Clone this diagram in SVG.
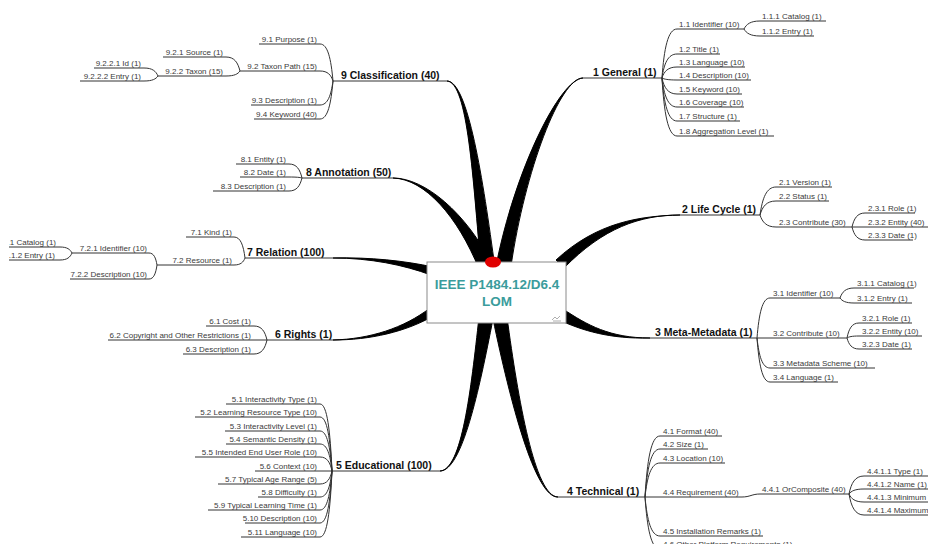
<svg xmlns="http://www.w3.org/2000/svg" width="928" height="544" viewBox="0 0 928 544">
  <style>
    .sub { font-family: "Liberation Sans", Arial, sans-serif; font-size: 8px; fill: #3a3a3a; }
    .l { text-anchor: end; }
    .main { font-family: "Liberation Sans", Arial, sans-serif; font-size: 10.5px; font-weight: bold; fill: #111; }
    .ul { stroke: #333; stroke-width: 1; fill: none; }
    .con { stroke: #333; stroke-width: 1; fill: none; }
    .trunk { fill: #000; stroke: #000; stroke-width: 1; stroke-linejoin: round; }
    .title { font-family: "Liberation Sans", Arial, sans-serif; font-size: 13.5px; font-weight: bold; fill: #3a9c9c; text-anchor: middle; }
  </style>
  <defs>
    <!-- the leftmost leaves run past the page margin -->
    <clipPath id="margin-left"><rect x="9" y="0" width="919" height="544"/></clipPath>
  </defs>
  <rect width="928" height="544" fill="#fff"/>

  <!-- connectors: tapered trunks from the root, then the fan-out curves of each branch -->
  <g id="connectors">
    <g id="trunks">
      <path class="trunk" d="M447,81 C468,81 483,179.5 495,268 L481,268 C473,180.5 468,82 447,81 Z"/>
      <path class="trunk" d="M393,178 C425,178 466,213 492,264 L479,269 C458,217 425,179 393,178 Z"/>
      <path class="trunk" d="M583,78 C560,78 525,170.7 511,266 L496,266 C515,169.3 560,79 583,78 Z"/>
      <path class="trunk" d="M680,215 C640,215 603,228 564,268 L556,260 C597,222 640,216 680,215 Z"/>
      <path class="trunk" d="M650,338 C610,338 587,325 563,309 L557,319 C583,331 610,339 650,338 Z"/>
      <path class="trunk" d="M333,258 C370,258 404,265 431,275 L433,267 C406,261 370,257 333,258 Z"/>
      <path class="trunk" d="M333,340 C370,340 406,332 435,315 L430,308 C404,328 370,339 333,340 Z"/>
      <path class="trunk" d="M440,471 C462,471 479,390.6 493,319 L479,317 C471,389.4 462,470 440,471 Z"/>
      <path class="trunk" d="M558,497 C535,497 518,399.4 507,317 L493,319 C510,400.6 535,498 558,497 Z"/>
    </g>
    <!-- 1 General -->
    <path class="con" d="M662,78 C664,48.6 668,29 677,29"/>
    <path class="con" d="M662,78 C664,63.6 668,54 677,54"/>
    <path class="con" d="M662,78 C664,71.4 668,67 677,67"/>
    <path class="con" d="M662,78 C664,79.2 668,80 677,80"/>
    <path class="con" d="M662,78 C664,87.6 668,94 677,94"/>
    <path class="con" d="M662,78 C664,95.4 668,107 677,107"/>
    <path class="con" d="M662,78 C664,103.8 668,121 677,121"/>
    <path class="con" d="M662,78 C664,112.8 668,136 677,136"/>
    <path class="con" d="M744,29 C746.4,24.2 750.4,21 760,21"/>
    <path class="con" d="M744,29 C746.4,33.2 750.4,36 760,36"/>
    <!-- 2 Life Cycle -->
    <path class="con" d="M760,215 C762.4,198.2 766.4,187 776,187"/>
    <path class="con" d="M760,215 C762.4,206.6 766.4,201 776,201"/>
    <path class="con" d="M760,215 C762.4,222.2 766.4,227 776,227"/>
    <path class="con" d="M852,227 C854,218.6 857.2,213 865,213"/>
    <path class="con" d="M852,227 H865"/>
    <path class="con" d="M852,227 C854,234.8 857.2,240 865,240"/>
    <!-- 3 Meta-Metadata -->
    <path class="con" d="M757,338 C759,314 762.2,298 770,298"/>
    <path class="con" d="M757,338 H770"/>
    <path class="con" d="M757,338 C759,356 762.2,368 770,368"/>
    <path class="con" d="M757,338 C759,364.4 762.2,382 770,382"/>
    <path class="con" d="M840,298 C842.1,292 845.6,288 854,288"/>
    <path class="con" d="M840,298 C842.1,301 845.6,303 854,303"/>
    <path class="con" d="M847,338 C848.8,329 851.8,323 859,323"/>
    <path class="con" d="M847,338 C848.8,336.8 851.8,336 859,336"/>
    <path class="con" d="M847,338 C848.8,344.6 851.8,349 859,349"/>
    <!-- 4 Technical -->
    <path class="con" d="M645,497 C647.2,460.4 651,436 660,436"/>
    <path class="con" d="M645,497 C647.2,468.2 651,449 660,449"/>
    <path class="con" d="M645,497 C647.2,476.6 651,463 660,463"/>
    <path class="con" d="M645,497 H660"/>
    <path class="con" d="M645,497 C647.2,520.4 651,536 660,536"/>
    <path class="con" d="M645,497 C647.2,528.2 651,549 660,549"/>
    <path class="con" d="M742,497 C750,497 752,494 760,494"/>
    <path class="con" d="M849,494 C851.2,483.2 855,476 864,476"/>
    <path class="con" d="M849,494 C851.2,491 855,489 864,489"/>
    <path class="con" d="M849,494 C851.2,498.8 855,502 864,502"/>
    <path class="con" d="M849,494 C851.2,506.6 855,515 864,515"/>
    <!-- 5 Educational -->
    <path class="con" d="M332,471 C330.2,430.8 327.2,404 320,404"/>
    <path class="con" d="M332,471 C330.2,438.6 327.2,417 320,417"/>
    <path class="con" d="M332,471 C330.2,447 327.2,431 320,431"/>
    <path class="con" d="M332,471 C330.2,454.8 327.2,444 320,444"/>
    <path class="con" d="M332,471 C330.2,462.6 327.2,457 320,457"/>
    <path class="con" d="M332,471 H320"/>
    <path class="con" d="M332,471 C330.2,478.8 327.2,484 320,484"/>
    <path class="con" d="M332,471 C330.2,486.6 327.2,497 320,497"/>
    <path class="con" d="M332,471 C330.2,494.4 327.2,510 320,510"/>
    <path class="con" d="M332,471 C330.2,502.2 327.2,523 320,523"/>
    <path class="con" d="M332,471 C330.2,510.6 327.2,537 320,537"/>
    <!-- 6 Rights -->
    <path class="con" d="M267,340 C265,331.6 261.8,326 254,326"/>
    <path class="con" d="M267,340 H254"/>
    <path class="con" d="M267,340 C265,348.4 261.8,354 254,354"/>
    <!-- 7 Relation -->
    <path class="con" d="M245,258 C243.4,245.4 240.6,237 234,237"/>
    <path class="con" d="M245,258 C243.4,262.2 240.6,265 234,265"/>
    <path class="con" d="M157,265 C155.8,257.8 153.8,253 149,253"/>
    <path class="con" d="M157,265 C155.8,273.4 153.8,279 149,279"/>
    <path class="con" d="M72,253 C70.2,249.4 67.2,247 60,247"/>
    <path class="con" d="M72,253 C70.2,257.2 67.2,260 60,260"/>
    <!-- 8 Annotation -->
    <path class="con" d="M302,178 C300,169.6 296.8,164 289,164"/>
    <path class="con" d="M302,178 C300,177.4 296.8,177 289,177"/>
    <path class="con" d="M302,178 C300,185.8 296.8,191 289,191"/>
    <!-- 9 Classification -->
    <path class="con" d="M333,81 C331,58.8 327.8,44 320,44"/>
    <path class="con" d="M333,81 C331,75 327.8,71 320,71"/>
    <path class="con" d="M333,81 C331,95.4 327.8,105 320,105"/>
    <path class="con" d="M333,81 C331,103.8 327.8,119 320,119"/>
    <path class="con" d="M240,71 C237.9,62.6 234.4,57 226,57"/>
    <path class="con" d="M240,71 C237.9,74 234.4,76 226,76"/>
    <path class="con" d="M158,76 C155.9,71.2 152.4,68 144,68"/>
    <path class="con" d="M158,76 C155.9,79 152.4,81 144,81"/>
  </g>

  <!-- root -->
  <g id="root">
    <rect x="427" y="262" width="139" height="61" fill="#fff" stroke="#8a8a8a" stroke-width="1"/>
    <ellipse cx="493" cy="262" rx="8" ry="5.5" fill="#e00000"/>
    <text class="title" x="497" y="289">IEEE P1484.12/D6.4</text>
    <text class="title" x="497" y="305.5">LOM</text>
    <path d="M552,320 l3,-3 l2,2 l3,-3 M553,321 h8" fill="none" stroke="#9a9a9a" stroke-width="0.8"/>
  </g>

  <!-- 1 General -->
  <g id="n1"><text class="main" x="593" y="75.5">1 General (1)</text><path class="ul" d="M583,78H662"/></g>
  <g id="n1-1"><text class="sub" x="679" y="27">1.1 Identifier (10)</text><path class="ul" d="M677,29H744"/></g>
  <g id="n1-1-1"><text class="sub" x="762" y="19">1.1.1 Catalog (1)</text><path class="ul" d="M760,21H826"/></g>
  <g id="n1-1-2"><text class="sub" x="762" y="34">1.1.2 Entry (1)</text><path class="ul" d="M760,36H814"/></g>
  <g id="n1-2"><text class="sub" x="679" y="52">1.2 Title (1)</text><path class="ul" d="M677,54H720"/></g>
  <g id="n1-3"><text class="sub" x="679" y="65">1.3 Language (10)</text><path class="ul" d="M677,67H745"/></g>
  <g id="n1-4"><text class="sub" x="679" y="78">1.4 Description (10)</text><path class="ul" d="M677,80H751"/></g>
  <g id="n1-5"><text class="sub" x="679" y="92">1.5 Keyword (10)</text><path class="ul" d="M677,94H742"/></g>
  <g id="n1-6"><text class="sub" x="679" y="105">1.6 Coverage (10)</text><path class="ul" d="M677,107H744"/></g>
  <g id="n1-7"><text class="sub" x="679" y="119">1.7 Structure (1)</text><path class="ul" d="M677,121H740"/></g>
  <g id="n1-8"><text class="sub" x="679" y="134">1.8 Aggregation Level (1)</text><path class="ul" d="M677,136H774"/></g>

  <!-- 2 Life Cycle -->
  <g id="n2"><text class="main" x="682" y="212.5">2 Life Cycle (1)</text><path class="ul" d="M680,215H760"/></g>
  <g id="n2-1"><text class="sub" x="779" y="185">2.1 Version (1)</text><path class="ul" d="M776,187H832"/></g>
  <g id="n2-2"><text class="sub" x="779" y="199">2.2 Status (1)</text><path class="ul" d="M776,201H829"/></g>
  <g id="n2-3"><text class="sub" x="779" y="225">2.3 Contribute (30)</text><path class="ul" d="M776,227H852"/></g>
  <g id="n2-3-1"><text class="sub" x="868" y="211">2.3.1 Role (1)</text><path class="ul" d="M865,213H915"/></g>
  <g id="n2-3-2"><text class="sub" x="868" y="225">2.3.2 Entity (40)</text><path class="ul" d="M865,227H928"/></g>
  <g id="n2-3-3"><text class="sub" x="868" y="238">2.3.3 Date (1)</text><path class="ul" d="M865,240H913"/></g>

  <!-- 3 Meta-Metadata -->
  <g id="n3"><text class="main" x="655" y="335.5">3 Meta-Metadata (1)</text><path class="ul" d="M650,338H757"/></g>
  <g id="n3-1"><text class="sub" x="773" y="296">3.1 Identifier (10)</text><path class="ul" d="M770,298H840"/></g>
  <g id="n3-1-1"><text class="sub" x="857" y="286">3.1.1 Catalog (1)</text><path class="ul" d="M854,288H914"/></g>
  <g id="n3-1-2"><text class="sub" x="857" y="301">3.1.2 Entry (1)</text><path class="ul" d="M854,303H912"/></g>
  <g id="n3-2"><text class="sub" x="773" y="336">3.2 Contribute (10)</text><path class="ul" d="M770,338H847"/></g>
  <g id="n3-2-1"><text class="sub" x="862" y="321">3.2.1 Role (1)</text><path class="ul" d="M859,323H912"/></g>
  <g id="n3-2-2"><text class="sub" x="862" y="334">3.2.2 Entity (10)</text><path class="ul" d="M859,336H922"/></g>
  <g id="n3-2-3"><text class="sub" x="862" y="347">3.2.3 Date (1)</text><path class="ul" d="M859,349H912"/></g>
  <g id="n3-3"><text class="sub" x="773" y="366">3.3 Metadata Scheme (10)</text><path class="ul" d="M770,368H875"/></g>
  <g id="n3-4"><text class="sub" x="773" y="380">3.4 Language (1)</text><path class="ul" d="M770,382H838"/></g>

  <!-- 4 Technical -->
  <g id="n4"><text class="main" x="567" y="494.5">4 Technical (1)</text><path class="ul" d="M558,497H645"/></g>
  <g id="n4-1"><text class="sub" x="663" y="434">4.1 Format (40)</text><path class="ul" d="M660,436H722"/></g>
  <g id="n4-2"><text class="sub" x="663" y="447">4.2 Size (1)</text><path class="ul" d="M660,449H708"/></g>
  <g id="n4-3"><text class="sub" x="663" y="461">4.3 Location (10)</text><path class="ul" d="M660,463H725"/></g>
  <g id="n4-4"><text class="sub" x="663" y="495">4.4 Requirement (40)</text><path class="ul" d="M660,497H742"/></g>
  <g id="n4-4-1"><text class="sub" x="762" y="492">4.4.1 OrComposite (40)</text><path class="ul" d="M760,494H849"/></g>
  <g id="n4-4-1-1"><text class="sub" x="867" y="474">4.4.1.1 Type (1)</text><path class="ul" d="M864,476H940"/></g>
  <g id="n4-4-1-2"><text class="sub" x="867" y="487">4.4.1.2 Name (1)</text><path class="ul" d="M864,489H940"/></g>
  <g id="n4-4-1-3"><text class="sub" x="867" y="500">4.4.1.3 Minimum Version (1)</text><path class="ul" d="M864,502H940"/></g>
  <g id="n4-4-1-4"><text class="sub" x="867" y="513">4.4.1.4 Maximum Version (1)</text><path class="ul" d="M864,515H940"/></g>
  <g id="n4-5"><text class="sub" x="663" y="534">4.5 Installation Remarks (1)</text><path class="ul" d="M660,536H763"/></g>
  <g id="n4-6"><text class="sub" x="663" y="547">4.6 Other Platform Requirements (1)</text><path class="ul" d="M660,549H790"/></g>

  <!-- 5 Educational -->
  <g id="n5"><text class="main" x="336" y="468.5">5 Educational (100)</text><path class="ul" d="M332,471H440"/></g>
  <g id="n5-1"><text class="sub l" x="317" y="402">5.1 Interactivity Type (1)</text><path class="ul" d="M320,404H226"/></g>
  <g id="n5-2"><text class="sub l" x="317" y="415">5.2 Learning Resource Type (10)</text><path class="ul" d="M320,417H195"/></g>
  <g id="n5-3"><text class="sub l" x="317" y="429">5.3 Interactivity Level (1)</text><path class="ul" d="M320,431H225"/></g>
  <g id="n5-4"><text class="sub l" x="317" y="442">5.4 Semantic Density (1)</text><path class="ul" d="M320,444H226"/></g>
  <g id="n5-5"><text class="sub l" x="317" y="455">5.5 Intended End User Role (10)</text><path class="ul" d="M320,457H195"/></g>
  <g id="n5-6"><text class="sub l" x="317" y="469">5.6 Context (10)</text><path class="ul" d="M320,471H255"/></g>
  <g id="n5-7"><text class="sub l" x="317" y="482">5.7 Typical Age Range (5)</text><path class="ul" d="M320,484H218"/></g>
  <g id="n5-8"><text class="sub l" x="317" y="495">5.8 Difficulty (1)</text><path class="ul" d="M320,497H258"/></g>
  <g id="n5-9"><text class="sub l" x="317" y="508">5.9 Typical Learning Time (1)</text><path class="ul" d="M320,510H208"/></g>
  <g id="n5-10"><text class="sub l" x="317" y="521">5.10 Description (10)</text><path class="ul" d="M320,523H245"/></g>
  <g id="n5-11"><text class="sub l" x="317" y="535">5.11 Language (10)</text><path class="ul" d="M320,537H241"/></g>

  <!-- 6 Rights -->
  <g id="n6"><text class="main" x="275" y="337.5">6 Rights (1)</text><path class="ul" d="M267,340H333"/></g>
  <g id="n6-1"><text class="sub l" x="251" y="324">6.1 Cost (1)</text><path class="ul" d="M254,326H206"/></g>
  <g id="n6-2"><text class="sub l" x="251" y="338">6.2 Copyright and Other Restrictions (1)</text><path class="ul" d="M254,340H108"/></g>
  <g id="n6-3"><text class="sub l" x="251" y="352">6.3 Description (1)</text><path class="ul" d="M254,354H183"/></g>

  <!-- 7 Relation -->
  <g id="n7"><text class="main" x="247" y="255.5">7 Relation (100)</text><path class="ul" d="M245,258H333"/></g>
  <g id="n7-1"><text class="sub l" x="232" y="235">7.1 Kind (1)</text><path class="ul" d="M234,237H186"/></g>
  <g id="n7-2"><text class="sub l" x="232" y="263">7.2 Resource (1)</text><path class="ul" d="M234,265H157"/></g>
  <g id="n7-2-1"><text class="sub l" x="147" y="251">7.2.1 Identifier (10)</text><path class="ul" d="M149,253H72"/></g>
  <g id="n7-2-1-1" clip-path="url(#margin-left)"><text class="sub l" x="56" y="245">7.2.1.1 Catalog (1)</text><path class="ul" d="M60,247H-20"/></g>
  <g id="n7-2-1-2" clip-path="url(#margin-left)"><text class="sub l" x="55" y="258">7.2.1.2 Entry (1)</text><path class="ul" d="M60,260H-10"/></g>
  <g id="n7-2-2"><text class="sub l" x="147" y="277">7.2.2 Description (10)</text><path class="ul" d="M149,279H70"/></g>

  <!-- 8 Annotation -->
  <g id="n8"><text class="main" x="306" y="175.5">8 Annotation (50)</text><path class="ul" d="M302,178H393"/></g>
  <g id="n8-1"><text class="sub l" x="286" y="162">8.1 Entity (1)</text><path class="ul" d="M289,164H236"/></g>
  <g id="n8-2"><text class="sub l" x="286" y="175">8.2 Date (1)</text><path class="ul" d="M289,177H240"/></g>
  <g id="n8-3"><text class="sub l" x="286" y="189">8.3 Description (1)</text><path class="ul" d="M289,191H213"/></g>

  <!-- 9 Classification -->
  <g id="n9"><text class="main" x="341" y="78.5">9 Classification (40)</text><path class="ul" d="M333,81H447"/></g>
  <g id="n9-1"><text class="sub l" x="317" y="42">9.1 Purpose (1)</text><path class="ul" d="M320,44H259"/></g>
  <g id="n9-2"><text class="sub l" x="317" y="69">9.2 Taxon Path (15)</text><path class="ul" d="M320,71H240"/></g>
  <g id="n9-2-1"><text class="sub l" x="223" y="55">9.2.1 Source (1)</text><path class="ul" d="M226,57H163"/></g>
  <g id="n9-2-2"><text class="sub l" x="223" y="74">9.2.2 Taxon (15)</text><path class="ul" d="M226,76H158"/></g>
  <g id="n9-2-2-1"><text class="sub l" x="141" y="66">9.2.2.1 Id (1)</text><path class="ul" d="M144,68H94"/></g>
  <g id="n9-2-2-2"><text class="sub l" x="141" y="79">9.2.2.2 Entry (1)</text><path class="ul" d="M144,81H80"/></g>
  <g id="n9-3"><text class="sub l" x="317" y="103">9.3 Description (1)</text><path class="ul" d="M320,105H251"/></g>
  <g id="n9-4"><text class="sub l" x="317" y="117">9.4 Keyword (40)</text><path class="ul" d="M320,119H254"/></g>
</svg>
